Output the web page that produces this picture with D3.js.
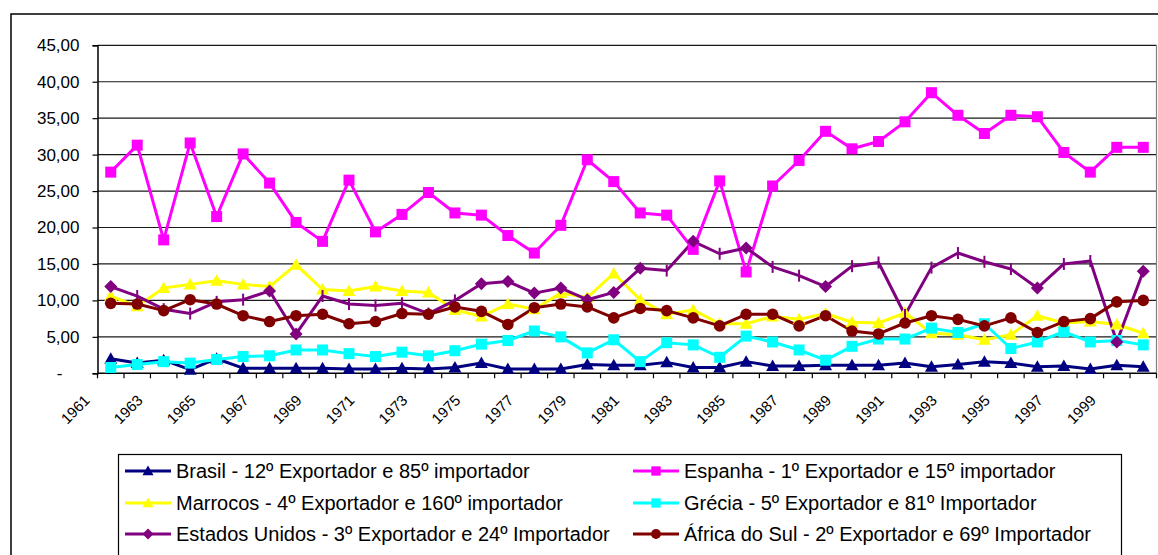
<!DOCTYPE html>
<html>
<head>
<meta charset="utf-8">
<script src="https://cdn.jsdelivr.net/npm/d3@7"></script>
<style>
  body { margin: 0; background: #fff; }
  svg { display: block; }
  text { font-family: "Liberation Sans", Arial, sans-serif; fill: #000; }
</style>
</head>
<body>
<svg width="1158" height="555"></svg>
<script>
const years = ["1961","1962","1963","1964","1965","1966","1967","1968","1969","1970",
  "1971","1972","1973","1974","1975","1976","1977","1978","1979","1980",
  "1981","1982","1983","1984","1985","1986","1987","1988","1989","1990",
  "1991","1992","1993","1994","1995","1996","1997","1998","1999","2000"]

const yTicks = [0, 5, 10, 15, 20, 25, 30, 35, 40, 45]

const brasil = [2.0,1.4,1.8,0.5,2.0,0.7,0.7,0.7,0.7,0.6,
  0.6,0.7,0.6,0.8,1.4,0.6,0.6,0.6,1.2,1.1,
  1.1,1.5,0.8,0.8,1.6,1.0,1.0,1.1,1.1,1.1,
  1.4,0.9,1.2,1.6,1.4,0.9,1.0,0.6,1.1,0.9]

const espanha = [27.6,31.3,18.3,31.6,21.5,30.1,26.1,20.7,18.1,26.5,
  19.4,21.8,24.8,22.0,21.7,18.9,16.5,20.3,29.3,26.3,
  22.0,21.7,17.0,26.4,13.9,25.7,29.2,33.2,30.8,31.8,
  34.5,38.5,35.4,32.9,35.4,35.2,30.3,27.6,31.0,31.0]

const marrocos = [10.6,9.2,11.7,12.2,12.7,12.2,11.9,14.9,11.5,11.3,
  11.9,11.3,11.1,8.7,7.8,9.5,8.8,11.0,10.4,13.7,
  10.1,8.1,8.7,6.8,6.8,7.8,7.4,8.2,7.0,6.9,
  8.3,5.5,5.3,4.6,5.3,7.9,6.9,7.1,6.7,5.5]

const grecia = [0.8,1.2,1.6,1.4,1.9,2.3,2.4,3.2,3.2,2.7,
  2.3,2.9,2.4,3.1,4.0,4.5,5.8,5.0,2.8,4.6,
  1.6,4.2,3.9,2.2,5.1,4.3,3.2,1.8,3.7,4.7,
  4.7,6.2,5.6,6.8,3.4,4.3,5.7,4.3,4.5,3.9]

const eua = [11.9,10.6,8.8,8.2,9.8,10.1,11.3,5.4,10.6,9.5,
  9.3,9.6,8.2,10.0,12.3,12.6,11.0,11.7,10.1,11.1,
  14.4,14.1,18.1,16.4,17.2,14.6,13.4,11.9,14.7,15.2,
  8.0,14.5,16.5,15.3,14.3,11.7,15.0,15.4,4.3,14.0]

// d = diamond, t = small vertical tick (as drawn in the original sheet)
const euaMarkers = ["d","t","t","t","t","t","d","d","t","t",
  "t","t","t","t","d","d","d","d","d","d",
  "d","t","d","t","d","t","t","d","t","t",
  "t","t","t","t","t","d","t","t","d","d"]

const africa = [9.6,9.5,8.6,10.1,9.5,7.9,7.1,7.9,8.1,6.8,
  7.1,8.2,8.1,9.1,8.5,6.7,9.0,9.5,9.1,7.6,
  8.9,8.6,7.6,6.5,8.1,8.1,6.5,7.9,5.8,5.4,
  6.9,7.9,7.4,6.5,7.6,5.6,7.1,7.5,9.8,10.0]

const series = [
  {name: "Brasil - 12º Exportador e 85º importador", values: brasil, color: "#000080", marker: "triangle"},
  {name: "Espanha - 1º Exportador e 15º importador", values: espanha, color: "#ff00ff", marker: "square"},
  {name: "Marrocos - 4º Exportador e 160º importador", values: marrocos, color: "#ffff00", marker: "triangle"},
  {name: "Grécia - 5º Exportador e 81º Importador", values: grecia, color: "#00ffff", marker: "square"},
  {name: "Estados Unidos - 3º Exportador e 24º Importador", values: eua, color: "#800080", marker: "diamond", markerList: euaMarkers},
  {name: "África do Sul - 2º Exportador e 69º Importador", values: africa, color: "#800000", marker: "circle"}
]

const svg = d3.select("svg")
const plot = {left: 97.5, right: 1156.5, top: 45.3, bottom: 373.3}

// outer chart border (cut off at right and bottom in the original)
svg.append("rect")
  .attr("x", 11).attr("y", 14)
  .attr("width", 1200).attr("height", 600)
  .attr("fill", "none").attr("stroke", "#000").attr("stroke-width", 1.5)

const x = d3.scaleBand().domain(years).range([plot.left, plot.right]).padding(0)
const y = d3.scaleLinear().domain([0, 45]).range([plot.bottom, plot.top])

// gridlines
svg.append("g").selectAll("line")
  .data(yTicks.filter(d => d > 0))
  .join("line")
  .attr("x1", plot.left).attr("x2", plot.right)
  .attr("y1", d => y(d)).attr("y2", d => y(d))
  .attr("stroke", "#1a1a1a").attr("stroke-width", 1.2)

// right edge of the plot area
svg.append("line")
  .attr("x1", plot.right).attr("x2", plot.right)
  .attr("y1", plot.top).attr("y2", plot.bottom)
  .attr("stroke", "#808080").attr("stroke-width", 1.2)

// y axis
const yAxis = svg.append("g")
  .attr("transform", `translate(${plot.left},0)`)
  .call(d3.axisLeft(y)
    .tickValues(yTicks)
    .tickSize(5)
    .tickPadding(13)
    .tickFormat(d => d === 0 ? "-" : d3.format(".2f")(d).replace(".", ",")))
yAxis.select(".domain").attr("stroke", "#000").attr("stroke-width", 1.5)
yAxis.selectAll(".tick line").attr("stroke", "#000").attr("stroke-width", 1.2)
yAxis.selectAll(".tick text")
  .style("font-size", "17px")
  .attr("fill", "#000")
  .attr("dx", d => d === 0 ? -17 : 0)

// x axis: ticks between categories, labels every other year
const xAxis = svg.append("g")
xAxis.append("line")
  .attr("x1", plot.left).attr("x2", plot.right)
  .attr("y1", plot.bottom).attr("y2", plot.bottom)
  .attr("stroke", "#000").attr("stroke-width", 1.5)
xAxis.selectAll(".xtick")
  .data(years.concat(["end"]))
  .join("line")
  .attr("class", "xtick")
  .attr("x1", d => d === "end" ? plot.right : x(d))
  .attr("x2", d => d === "end" ? plot.right : x(d))
  .attr("y1", plot.bottom).attr("y2", plot.bottom + 5)
  .attr("stroke", "#000").attr("stroke-width", 1.2)
xAxis.selectAll(".xlabel")
  .data(years.filter((d, i) => i % 2 === 0))
  .join("text")
  .attr("class", "xlabel")
  .attr("text-anchor", "end")
  .style("font-size", "15px")
  .attr("transform", d => `translate(${x(d) + x.bandwidth() / 2 - 20},${plot.bottom + 28}) rotate(-45)`)
  .text(d => d)

const cx = (d, i) => x(years[i]) + x.bandwidth() / 2

const line = d3.line()
  .x((d, i) => cx(d, i))
  .y(d => y(d))

// all lines first, markers on top (as in the original)
svg.append("g").selectAll("path")
  .data(series)
  .join("path")
  .attr("d", s => line(s.values))
  .attr("fill", "none")
  .attr("stroke", s => s.color)
  .attr("stroke-width", 3)
  .attr("stroke-linejoin", "round")

function drawMarker(g, type, color, k) {
  k = k || 1
  if (type === "square") {
    g.append("rect").attr("x", -5.5 * k).attr("y", -5.5 * k)
      .attr("width", 11 * k).attr("height", 11 * k).attr("fill", color)
  } else if (type === "triangle") {
    g.append("path").attr("d", `M0,${-6.5*k}L${6.5*k},${5*k}L${-6.5*k},${5*k}Z`).attr("fill", color)
  } else if (type === "diamond") {
    g.append("path").attr("d", `M0,${-6.5*k}L${6.5*k},0L0,${6.5*k}L${-6.5*k},0Z`).attr("fill", color)
  } else if (type === "circle") {
    g.append("circle").attr("r", 5.8 * k).attr("fill", color)
  } else if (type === "tick") {
    g.append("line").attr("y1", -6).attr("y2", 6)
      .attr("stroke", color).attr("stroke-width", 2)
  }
}

const markers = svg.append("g")
series.forEach(s => {
  s.values.forEach((v, i) => {
    const g = markers.append("g").attr("transform", `translate(${cx(v, i)},${y(v)})`)
    let type = s.marker
    if (s.markerList && s.markerList[i] === "t") type = "tick"
    drawMarker(g, type, s.color)
  })
})

// legend
const legend = svg.append("g")
legend.append("rect")
  .attr("x", 118.5).attr("y", 454.5)
  .attr("width", 1003).attr("height", 200)
  .attr("fill", "#fff").attr("stroke", "#000").attr("stroke-width", 1.2)

const legendCols = [125, 633]
const legendRows = [471, 503, 534]
series.forEach((s, i) => {
  const lx = legendCols[i % 2]
  const ly = legendRows[Math.floor(i / 2)]
  const g = legend.append("g").attr("transform", `translate(${lx},${ly})`)
  g.append("line").attr("x1", 0).attr("x2", 46)
    .attr("stroke", s.color).attr("stroke-width", 3)
  const m = g.append("g").attr("transform", "translate(23,0)")
  drawMarker(m, s.marker, s.color, 0.85)
  g.append("text")
    .attr("x", 51).attr("dy", "0.35em")
    .style("font-size", "20px")
    .text(s.name)
})
</script>
</body>
</html>
